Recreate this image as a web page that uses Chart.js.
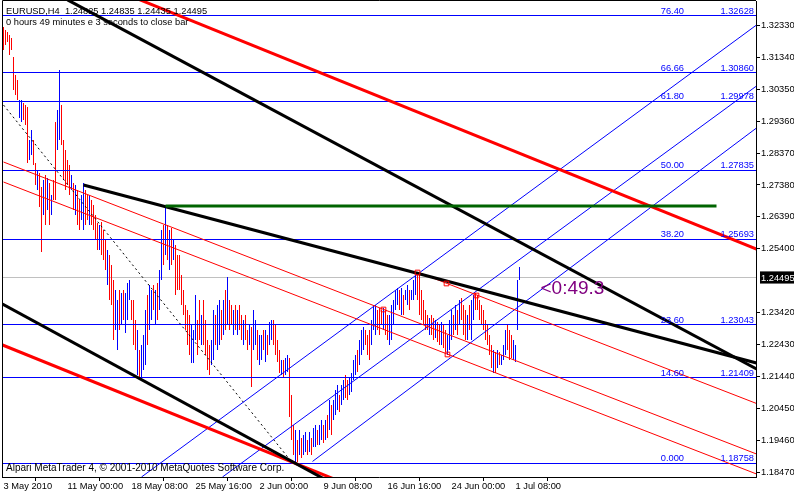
<!DOCTYPE html>
<html><head><meta charset="utf-8">
<script src="https://cdn.jsdelivr.net/npm/chart.js@4.4.1/dist/chart.umd.min.js"></script>
<style>html,body{margin:0;padding:0;background:#fff;}canvas{display:block;}</style>
</head><body>
<canvas id="c" width="794" height="492"></canvas>
<script>
// ---------- DATA ----------
const symbolTitle = "EURUSD,H4  1.24825 1.24835 1.24435 1.24495";
const timerText = "0 hours 49 minutes e 3 seconds to close bar";
const copyrightText = "Alpari MetaTrader 4, \u00A9 2001-2010 MetaQuotes Software Corp.";
const countdownText = "<0:49.3";

const barHigh = [
1.3228,1.3218,1.3212,1.3203,1.3194,1.3135,1.3079,1.3063,1.3001,1.3001,
1.2992,1.2986,1.2980,1.2877,1.2908,1.2877,1.2806,1.2785,1.2775,1.2732,
1.2753,1.2769,1.2760,1.2744,1.2707,1.2753,1.2933,1.2971,1.3094,1.2986,
1.2877,1.2846,1.2815,1.2800,1.2769,1.2744,1.2738,1.2723,1.2691,1.2707,
1.2744,1.2723,1.2707,1.2707,1.2691,1.2676,1.2645,1.2620,1.2614,1.2623,
1.2598,1.2567,1.2536,1.2521,1.2490,1.2443,1.2412,1.2381,1.2412,1.2403,
1.2412,1.2403,1.2434,1.2443,1.2381,1.2381,1.2319,1.2288,1.2226,1.2242,
1.2273,1.2350,1.2397,1.2428,1.2412,1.2428,1.2412,1.2434,1.2474,1.2598,
1.2614,1.2673,1.2614,1.2598,1.2604,1.2567,1.2552,1.2521,1.2521,1.2459,
1.2412,1.2366,1.2350,1.2335,1.2304,1.2288,1.2397,1.2319,1.2381,1.2335,
1.2381,1.2319,1.2257,1.2242,1.2257,1.2350,1.2335,1.2366,1.2381,1.2350,
1.2381,1.2412,1.2452,1.2381,1.2366,1.2350,1.2366,1.2350,1.2366,1.2335,
1.2319,1.2335,1.2288,1.2304,1.2298,1.2350,1.2319,1.2288,1.2273,1.2273,
1.2288,1.2288,1.2273,1.2313,1.2319,1.2319,1.2304,1.2257,1.2226,1.2195,
1.2195,1.2201,1.2211,1.2201,1.2087,1.1994,1.1978,1.1947,1.1978,1.1954,
1.1963,1.1972,1.1947,1.1972,1.1954,1.1984,1.1994,1.1978,1.1994,1.2009,
1.1994,1.2009,1.2025,1.2071,1.2056,1.2071,1.2102,1.2118,1.2087,1.2118,
1.2133,1.2149,1.2133,1.2140,1.2155,1.2195,1.2211,1.2226,1.2257,1.2288,
1.2298,1.2288,1.2273,1.2288,1.2319,1.2366,1.2366,1.2350,1.2357,1.2350,
1.2357,1.2350,1.2335,1.2335,1.2366,1.2381,1.2412,1.2419,1.2412,1.2419,
1.2397,1.2412,1.2428,1.2412,1.2412,1.2443,1.2459,1.2468,1.2459,1.2412,
1.2381,1.2350,1.2335,1.2326,1.2335,1.2326,1.2319,1.2313,1.2304,1.2313,
1.2304,1.2288,1.2273,1.2319,1.2350,1.2335,1.2366,1.2350,1.2381,1.2388,
1.2366,1.2350,1.2335,1.2366,1.2381,1.2397,1.2403,1.2397,1.2381,1.2366,
1.2350,1.2319,1.2304,1.2273,1.2242,1.2226,1.2220,1.2226,1.2220,1.2211,
1.2242,1.2288,1.2304,1.2288,1.2273,1.2257,1.2242,1.2443,1.24835];

const barLow = [
1.3156,1.3172,1.3181,1.3141,1.3156,1.3032,1.3017,1.3001,1.2946,1.2933,
1.2939,1.2924,1.2806,1.2815,1.2831,1.2800,1.2738,1.2723,1.2670,1.2530,
1.2645,1.2614,1.2660,1.2614,1.2645,1.2691,1.2691,1.2846,1.2877,1.2862,
1.2753,1.2723,1.2738,1.2707,1.2723,1.2660,1.2645,1.2614,1.2598,1.2629,
1.2598,1.2614,1.2629,1.2614,1.2614,1.2598,1.2567,1.2536,1.2536,1.2521,
1.2505,1.2474,1.2428,1.2381,1.2366,1.2257,1.2288,1.2226,1.2288,1.2304,
1.2319,1.2279,1.2319,1.2381,1.2319,1.2242,1.2226,1.2149,1.2140,1.2140,
1.2164,1.2180,1.2242,1.2288,1.2319,1.2350,1.2304,1.2319,1.2350,1.2443,
1.2490,1.2521,1.2505,1.2474,1.2490,1.2505,1.2397,1.2412,1.2412,1.2366,
1.2335,1.2288,1.2242,1.2211,1.2186,1.2186,1.2257,1.2211,1.2257,1.2242,
1.2242,1.2211,1.2164,1.2149,1.2180,1.2195,1.2242,1.2226,1.2242,1.2257,
1.2273,1.2288,1.2304,1.2288,1.2304,1.2273,1.2288,1.2273,1.2288,1.2257,
1.2242,1.2257,1.2226,1.2242,1.2112,1.2226,1.2242,1.2195,1.2180,1.2195,
1.2226,1.2189,1.2211,1.2242,1.2257,1.2242,1.2211,1.2189,1.2155,1.2149,
1.2143,1.2149,1.2158,1.2019,1.1947,1.1901,1.1876,1.1879,1.1901,1.1892,
1.1901,1.1910,1.1901,1.1910,1.1901,1.1926,1.1926,1.1932,1.1932,1.1947,
1.1938,1.1947,1.1954,1.1978,1.1963,1.2009,1.2025,1.2040,1.2034,1.2056,
1.2071,1.2078,1.2071,1.2087,1.2096,1.2133,1.2149,1.2158,1.2180,1.2211,
1.2226,1.2242,1.2211,1.2195,1.2242,1.2288,1.2273,1.2288,1.2273,1.2304,
1.2288,1.2273,1.2257,1.2242,1.2257,1.2304,1.2350,1.2366,1.2350,1.2335,
1.2335,1.2381,1.2366,1.2350,1.2381,1.2381,1.2397,1.2381,1.2335,1.2319,
1.2304,1.2288,1.2288,1.2273,1.2273,1.2257,1.2264,1.2251,1.2242,1.2242,
1.2233,1.2220,1.2211,1.2226,1.2257,1.2273,1.2288,1.2273,1.2304,1.2319,
1.2273,1.2257,1.2257,1.2288,1.2257,1.2319,1.2350,1.2350,1.2319,1.2304,
1.2288,1.2257,1.2242,1.2211,1.2171,1.2155,1.2155,1.2171,1.2180,1.2180,
1.2195,1.2211,1.2226,1.2195,1.2201,1.2195,1.2189,1.2288,1.24435];

// 1 = bull bar (blue), 0 = bear bar (red)
const barUp = [
0,0,0,0,0,0,0,0,1,1, 0,0,0,1,1,0,0,1,0,0, 1,0,1,0,1,0,0,1,1,0, 0,0,0,0,1,0,1,0,0,1,
1,0,0,1,0,0,0,0,1,0, 0,0,1,0,0,0,1,1,0,1, 0,1,1,1,0,0,0,1,0,1, 1,1,0,1,1,0,1,0,1,1,
0,1,0,1,0,1,0,0,0,0, 0,0,0,0,1,1,1,0,0,1, 0,0,0,0,1,1,0,1,1,0, 1,0,1,0,0,1,0,1,0,0,
1,0,0,1,0,1,1,0,1,1, 0,1,0,1,1,0,0,0,0,1, 0,1,1,0,0,0,1,0,1,0, 1,1,0,1,0,1,1,0,1,1,
0,1,0,1,0,1,1,1,0,1, 1,0,0,1,1,1,1,0,1,1, 1,0,0,0,1,1,1,0,0,0, 1,0,0,1,1,1,1,1,0,1,
0,1,1,0,1,1,1,0,0,0, 0,0,0,1,0,0,1,0,0,1, 0,0,1,1,1,0,1,0,1,0, 0,0,1,0,1,1,0,0,0,0,
0,0,0,0,0,1,0,1,0,1, 1,1,0,0,0,1,1,1,1];

const xTickIndex = [0, 32, 64, 96, 128, 160, 192, 224, 256];
const xTickLabels = ["3 May 2010","11 May 00:00","18 May 08:00","25 May 16:00","2 Jun 00:00",
                     "9 Jun 08:00","16 Jun 16:00","24 Jun 00:00","1 Jul 08:00"];
const yTickValues = [1.18470,1.19460,1.20450,1.21440,1.22430,1.23420,1.24495,1.25400,
                     1.26390,1.27380,1.28370,1.29360,1.30350,1.31340,1.32330];
const bidPrice = 1.24495;

const fibLevels = ["0.000","14.60","23.60","38.20","50.00","61.80","66.66","76.40"];
const fibPrices = [1.18758,1.21409,1.23043,1.25693,1.27835,1.29978,1.30860,1.32628];

// trend objects: [barIndex1, price1, barIndex2, price2]
const blackChannel = [[32, 1.3312, 376.5, 1.21673], [-0.5, 1.23688, 163.5, 1.18156]];
const blackTrend   = [[40, 1.27378, 376.5, 1.21859]];
const redChannel   = [[63.5, 1.33239, 376.5, 1.25394], [-0.5, 1.22417, 168.5, 1.18181]];
const redThin      = [[0, 1.28091, 376.5, 1.19037], [0, 1.27471, 376.5, 1.18417], [207, 1.2468, 376.5, 1.20603]];
const blueRising   = [[69, 1.18324, 376.5, 1.32339], [109.5, 1.18324, 376.5, 1.30448], [154.5, 1.18806, 376.5, 1.29146]];
const fibAnchor    = [[0, 1.29858, 144.5, 1.18758]];
const greenLevel   = [[81, 1.26727, 356.5, 1.26727]];
const markerIdx    = [190, 207, 221.5, 236.5, 222];
const markerPrice  = [1.23533, 1.2468, 1.24339, 1.23967, 1.22107];

// ---------- CHART ----------
const X_MIN = -0.75, X_MAX = 376.25, Y_MIN = 1.183239, Y_MAX = 1.330836;
const FONT = "'Liberation Sans', Arial, sans-serif";
const SMALL = 9.3;

function seg(a, color, width, dash, order) {
  return {type:'line', data:[{x:a[0], y:a[1]}, {x:a[2], y:a[3]}], borderColor:color,
    borderWidth:width, borderDash:dash || [], pointRadius:0, fill:false, tension:0,
    order: order == null ? 1 : order, borderCapStyle:'butt'};
}

const datasets = [];
datasets.push({type:'line', data: markerIdx.map((v,i)=>({x:v, y:markerPrice[i]})), showLine:false,
  pointStyle:'rect', pointRadius:3.3, pointBorderColor:'#ff0000', pointBackgroundColor:'rgba(0,0,0,0)',
  pointBorderWidth:1, order:0, snap:true});
greenLevel.forEach(a => datasets.push(seg(a, '#006400', 3, null, 1)));
blackChannel.forEach(a => datasets.push(seg(a, '#000000', 3, null, 1)));
blackTrend.forEach(a => datasets.push(seg(a, '#000000', 3, null, 1)));
redChannel.forEach(a => datasets.push(seg(a, '#ff0000', 3, null, 1)));
redThin.forEach(a => datasets.push(seg(a, '#ff0000', 1, null, 2)));
blueRising.forEach(a => datasets.push(seg(a, '#0000ff', 1, null, 2)));
fibAnchor.forEach(a => datasets.push(seg(a, '#000000', 1, [2,3], 2)));
fibPrices.forEach(p => { const d = seg([X_MIN, p, X_MAX, p], '#0000ff', 1, null, 3); d.snap = true; datasets.push(d); });
datasets.push({type:'bar', data: barHigh.map((h,i)=>({x:i, y:[barLow[i], h]})),
  backgroundColor: barUp.map(u => u ? '#0000ff' : '#ff0000'), borderWidth:0,
  barThickness:1, inflateAmount:0, grouped:false, order:10, isBars:true});
(() => { const d = seg([X_MIN, bidPrice, X_MAX, bidPrice], '#c0c0c0', 1, null, 11); d.snap = true; datasets.push(d); })();

const overlay = {
  id: 'overlay',
  beforeDraw(c) {
    const ctx = c.ctx; ctx.save(); ctx.fillStyle = '#fff'; ctx.fillRect(0, 0, c.width, c.height); ctx.restore();
  },
  afterDatasetsUpdate(c) {
    c.data.datasets.forEach((ds, i) => {
      const els = c.getDatasetMeta(i).data;
      if (ds.isBars) {
        els.forEach(el => {
          el.x = Math.floor(el.x) + 0.5; el.width = 1;
          el.y = Math.round(el.y); el.base = Math.round(el.base);
          if (Math.abs(el.base - el.y) < 1) el.base = el.y + 1;
        });
      } else if (ds.snap) {
        els.forEach(pt => { pt.y = Math.round(pt.y - 0.5) + 0.5; });
      }
    });
  },
  afterDraw(c) {
    const ctx = c.ctx, a = c.chartArea, ys = c.scales.y, xs = c.scales.x;
    ctx.save();
    ctx.strokeStyle = '#000'; ctx.lineWidth = 1;
    ctx.beginPath();
    ctx.moveTo(Math.floor(a.left) + 0.5, a.bottom); ctx.lineTo(Math.floor(a.left) + 0.5, 0.5); ctx.lineTo(a.right, 0.5);
    ctx.stroke();
    ctx.fillStyle = '#000'; ctx.textBaseline = 'alphabetic'; ctx.textAlign = 'left';
    ctx.font = SMALL + 'px ' + FONT;
    ctx.fillText(symbolTitle, 6, 14);
    ctx.fillText(timerText, 6, 25);
    ctx.font = '10px ' + FONT;
    ctx.fillText(copyrightText, 6, 471);
    ctx.font = SMALL + 'px ' + FONT;
    ctx.fillStyle = '#0000ff'; ctx.textAlign = 'right';
    fibPrices.forEach((p, i) => {
      const y = Math.round(ys.getPixelForValue(p));
      ctx.fillText(fibLevels[i], 684, y - 2);
      ctx.fillText(p.toFixed(5), 754, y - 2);
    });
    ctx.fillStyle = '#800080'; ctx.textAlign = 'left'; ctx.font = '19px ' + FONT;
    ctx.fillText(countdownText, xs.getPixelForValue(268.5), ys.getPixelForValue(bidPrice) + 16);
    ctx.restore();
  }
};

new Chart(document.getElementById('c'), {
  type: 'bar',
  data: { datasets },
  plugins: [overlay],
  options: {
    responsive: false, animation: false, devicePixelRatio: 1,
    layout: { autoPadding: false, padding: { left: 2, top: 1, right: 0, bottom: 0 } },
    plugins: { legend: { display: false }, tooltip: { enabled: false } },
    scales: {
      x: {
        type: 'linear', position: 'bottom', min: X_MIN, max: X_MAX, offset: false,
        grid: { display: true, drawOnChartArea: false, drawTicks: true, tickLength: 4, color: '#000' },
        border: { display: true, color: '#000' },
        ticks: { autoSkip: false, maxRotation: 0, align: 'start', padding: 0, color: '#000',
          font: { family: FONT, size: SMALL },
          callback: (v, i) => xTickLabels[i] },
        afterBuildTicks: s => { s.ticks = xTickIndex.map(v => ({ value: v })); },
        afterFit: s => { s.height = 15; s.paddingLeft = 0; s.paddingRight = 0; }
      },
      y: {
        type: 'linear', position: 'right', min: Y_MIN, max: Y_MAX,
        grid: { display: true, drawOnChartArea: false, drawTicks: true, tickLength: 4,
          color: ctx => (ctx.tick && ctx.tick.value === bidPrice) ? 'rgba(0,0,0,0)' : '#000' },
        border: { display: true, color: '#000' },
        ticks: { autoSkip: false, padding: 1, font: { family: FONT, size: SMALL },
          color: ctx => (ctx.tick && ctx.tick.value === bidPrice) ? '#fff' : '#000',
          showLabelBackdrop: ctx => !!(ctx.tick && ctx.tick.value === bidPrice),
          backdropColor: '#000', backdropPadding: { left: 1, right: 4, top: 1, bottom: 0 },
          callback: v => v.toFixed(5) },
        afterBuildTicks: s => { s.ticks = yTickValues.map(v => ({ value: v })); },
        afterFit: s => { s.width = 38; s.paddingTop = 0; s.paddingBottom = 0; }
      }
    }
  }
});
</script>
</body></html>
